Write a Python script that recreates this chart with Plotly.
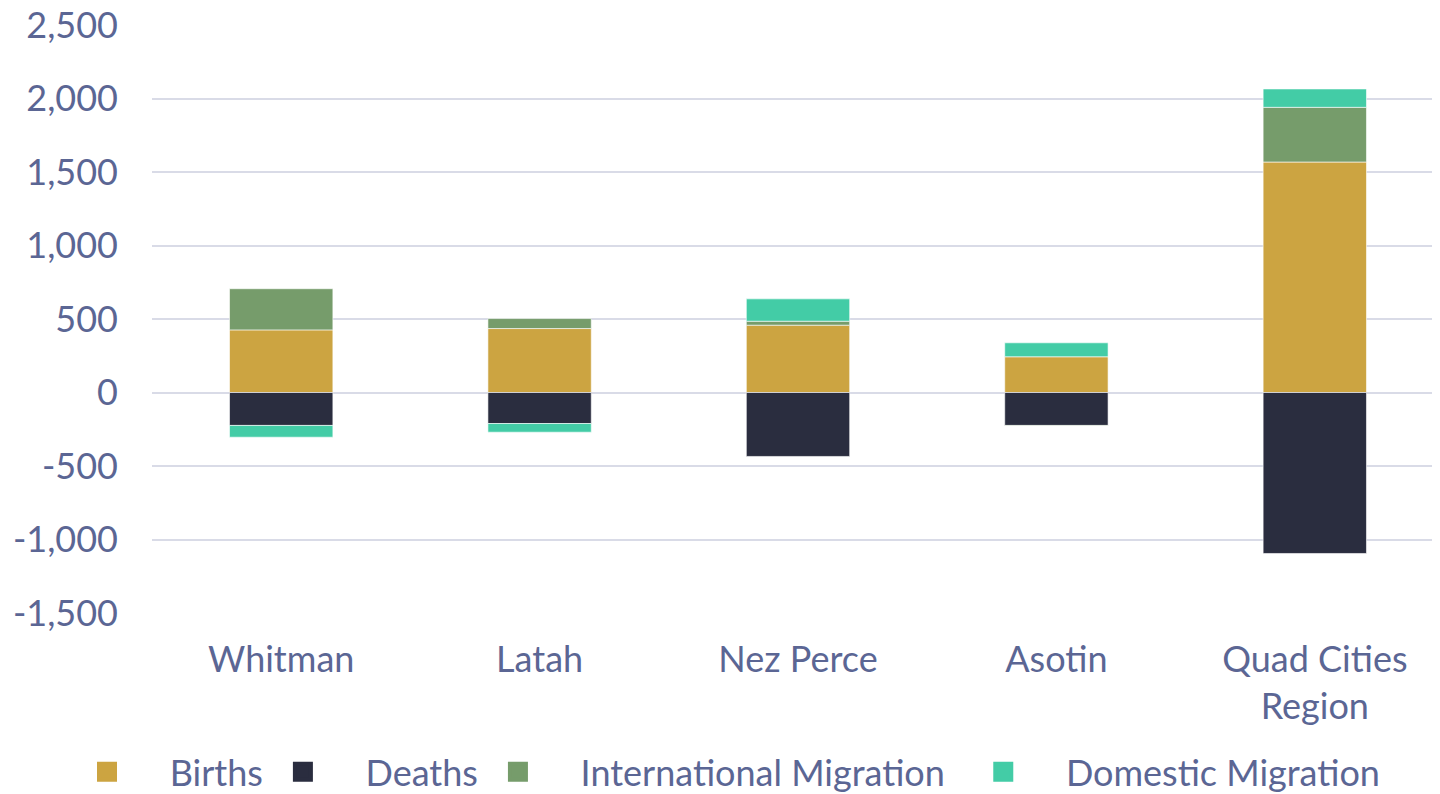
import plotly.graph_objects as go

categories = ["Whitman", "Latah", "Nez Perce", "Asotin", "Quad Cities<br>Region"]
births = [426, 435, 458, 243, 1568]
deaths = [-224, -211, -435, -224, -1095]
international = [280, 68, 27, -4, 372]
domestic = [-80, -59, 152, 95, 125]

y_tickvals = [-1500, -1000, -500, 0, 500, 1000, 1500, 2000, 2500]
y_ticktext = ["-1,500", "-1,000", "-500", "0", "500", "1,000", "1,500", "2,000", "2,500"]

series = [
    ("Births", births, "#cca441"),
    ("Deaths", deaths, "#2a2d3f"),
    ("International Migration", international, "#769c6b"),
    ("Domestic Migration", domestic, "#43cca6"),
]

text_color = "#5b6694"
font_family = "Lato, 'Open Sans', sans-serif"
fs = 36
nb = "\u00a0"

fig = go.Figure()
for name, vals, color in series:
    fig.add_trace(go.Bar(
        x=categories, y=vals, name=name, showlegend=False,
        marker=dict(color=color, line=dict(color="rgba(255,255,255,0.6)", width=1)),
    ))
# legend entries with larger square swatches
for i, (name, vals, color) in enumerate(series):
    label = nb * 3 + name + (nb * 2 if i == 2 else "")
    fig.add_trace(go.Scatter(
        x=[None], y=[None], mode="markers", name=label,
        marker=dict(symbol="square", size=16, color=color, line=dict(color=color, width=4)),
    ))

fig.update_layout(
    barmode="relative",
    bargap=0.6,
    width=1436, height=786,
    margin=dict(l=144, r=0, t=17, b=181, autoexpand=False),
    paper_bgcolor="white",
    plot_bgcolor="rgba(0,0,0,0)",
    font=dict(family=font_family, size=fs, color=text_color),
    showlegend=True,
    legend=dict(
        orientation="h",
        x=-0.0619, y=-0.219, xanchor="left", yanchor="top",
        font=dict(size=fs, color=text_color),
        itemwidth=60,
        itemsizing="trace",
        traceorder="normal",
        bgcolor="rgba(0,0,0,0)",
    ),
    yaxis=dict(
        range=[-1500, 2500],
        tickvals=y_tickvals, ticktext=y_ticktext,
        gridcolor="#d9dbe7", gridwidth=2,
        zeroline=True, zerolinecolor="#d9dbe7", zerolinewidth=2,
        showline=False,
        ticklabelstandoff=33,
        ticklabeloverflow="allow",
        tickfont=dict(size=fs, color=text_color),
    ),
    xaxis=dict(
        showgrid=False, showline=False,
        ticklabelstandoff=22,
        tickfont=dict(size=fs, color=text_color),
    ),
)

fig.write_html("out.html")
